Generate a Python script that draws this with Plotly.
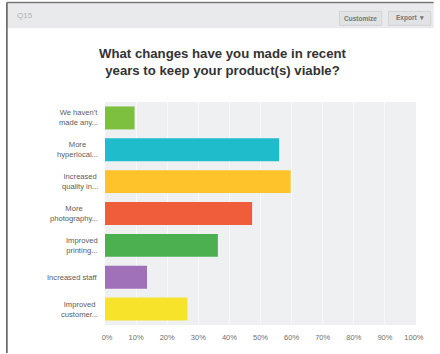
import plotly.graph_objects as go

categories = ["We haven't<br>made any...", "More<br>hyperlocal...", "Increased<br>quality in...",
              "More<br>photography...", "Improved<br>printing...", "Increased staff",
              "Improved<br>customer..."]
values = [9.5, 56.0, 59.7, 47.3, 36.3, 13.5, 26.5]
colors = ["#7dbf3e", "#1fbccc", "#fec22a", "#ef5d3b", "#4cb050", "#a070b8", "#f6e32a"]
tick_vals = [0, 10, 20, 30, 40, 50, 60, 70, 80, 90, 100]
tick_text = ["  0%", "10%", "20%", "30%", "40%", "50%", "60%", "70%", "80%", "90%", "100%  "]

FONT = "Liberation Sans, Arial, sans-serif"

fig = go.Figure(go.Bar(
    y=categories, x=values, orientation="h",
    marker=dict(color=colors, line=dict(width=0)),
    hoverinfo="skip",
))

L, R, T, B = 105, 18, 102, 28
W, H = 440, 354
pw, ph = W - L - R, H - T - B

def px(x):
    return (x - L) / pw

def py(y):
    return (H - B - y) / ph

shapes = [
    dict(type="rect", xref="paper", yref="paper", x0=px(5), x1=px(440), y0=py(28), y1=py(2),
         fillcolor="#e9eaeb", line=dict(width=0), layer="below"),
    dict(type="line", xref="paper", yref="paper", x0=px(5), x1=px(5), y0=py(354), y1=py(2),
         line=dict(color="#555555", width=1.5)),
    dict(type="line", xref="paper", yref="paper", x0=px(5), x1=px(440), y0=py(2), y1=py(2),
         line=dict(color="#777777", width=1.5)),
    dict(type="rect", xref="paper", yref="paper", x0=px(344), x1=px(387), y0=py(25), y1=py(11),
         fillcolor="#e2e3e4", line=dict(color="#d2d3d4", width=1)),
    dict(type="rect", xref="paper", yref="paper", x0=px(394), x1=px(437), y0=py(25), y1=py(11),
         fillcolor="#e2e3e4", line=dict(color="#d2d3d4", width=1)),
]

annotations = [
    dict(xref="paper", yref="paper", x=px(13), y=py(15), text="Q15", showarrow=False,
         xanchor="left", yanchor="middle", font=dict(family=FONT, size=8, color="#b0b2b4")),
    dict(xref="paper", yref="paper", x=px(365.5), y=py(18), text="<b>Customize</b>", showarrow=False,
         xanchor="center", yanchor="middle", font=dict(family=FONT, size=6.5, color="#777777")),
    dict(xref="paper", yref="paper", x=px(415.5), y=py(18), text="<b>Export  ▾</b>", showarrow=False,
         xanchor="center", yanchor="middle", font=dict(family=FONT, size=6.5, color="#777777")),
    dict(xref="paper", yref="paper", x=px(225), y=py(62),
         text="<b>What changes have you made in recent<br>years to keep your product(s) viable?</b>",
         showarrow=False, xanchor="center", yanchor="middle",
         font=dict(family=FONT, size=13.2, color="#333333")),
]

# category labels, centred text, right edge near the plot
for c in categories:
    annotations.append(dict(xref="paper", yref="y", x=px(100), y=c, text=c, showarrow=False,
                            xanchor="right", yanchor="middle", align="center",
                            font=dict(family=FONT, size=7.6, color="#5a5a5a")))

fig.update_layout(
    width=W, height=H,
    margin=dict(l=L, r=R, t=T, b=B),
    paper_bgcolor="white",
    plot_bgcolor="#eff0f2",
    showlegend=False,
    bargap=0.28,
    shapes=shapes,
    annotations=annotations,
    font=dict(family=FONT, color="#666666"),
    xaxis=dict(range=[0, 100], tickvals=tick_vals, ticktext=tick_text,
               showgrid=True, gridcolor="#f8f9fa", gridwidth=1, zeroline=False,
               tickfont=dict(size=7.5, color="#707070"), ticks="", ticklabelstandoff=6,
               fixedrange=True),
    yaxis=dict(autorange="reversed", showgrid=False, zeroline=False, ticks="",
               showticklabels=False, fixedrange=True),
)

fig.write_html("out.html", config={"displayModeBar": False})
